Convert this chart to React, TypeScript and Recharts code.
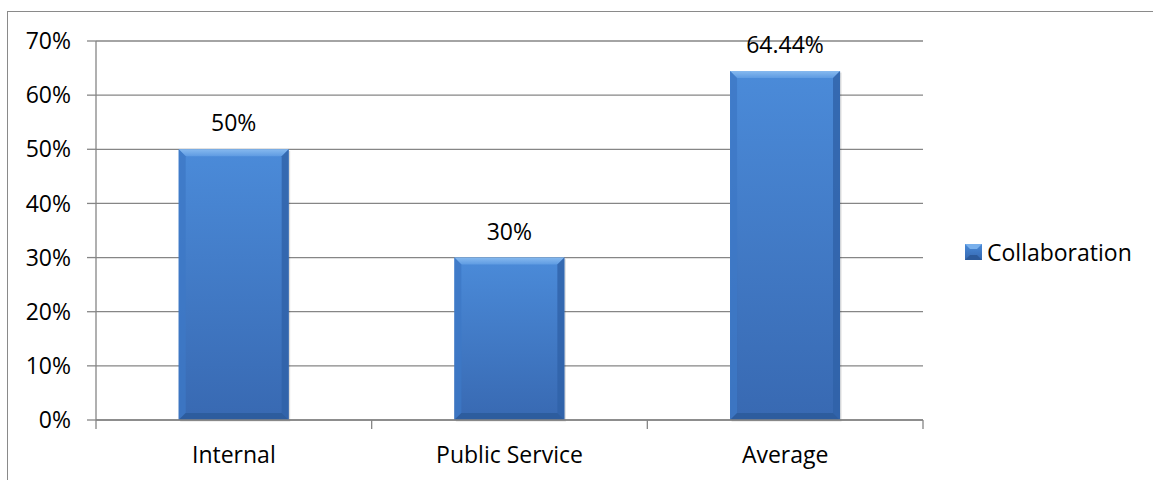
import { BarChart, Bar, XAxis, YAxis, CartesianGrid, Legend, LabelList } from 'recharts';

const categories = ['Internal', 'Public Service', 'Average'];
const collaboration = [50, 30, 64.44];
const yTicks = [0, 10, 20, 30, 40, 50, 60, 70];
const categoryEdges = [0, 1, 2, 3];

const data = categories.map((name, i) => ({
  name,
  pos: i + 0.5,
  collaboration: collaboration[i],
}));

const FONT = '"Open Sans", sans-serif';
const GRID = '#868686';

const BevelBar = (props: any) => {
  const { x, y, width, height } = props;
  if (!height || height <= 0) return null;
  const b = Math.min(7, width / 4, height / 4);
  const x2 = x + width;
  const y2 = y + height;
  return (
    <g>
      <rect x={x + 1.5} y={y + 1.5} width={width} height={height} fill="rgba(0,0,0,0.13)" />
      <rect x={x} y={y} width={width} height={height} fill="url(#barBody)" />
      <polygon points={`${x},${y} ${x2},${y} ${x2 - b},${y + b} ${x + b},${y + b}`} fill="url(#barTop)" />
      <polygon points={`${x},${y} ${x + b},${y + b} ${x + b},${y2 - b} ${x},${y2}`} fill="#3d78c6" opacity={0.8} />
      <polygon points={`${x2},${y} ${x2 - b},${y + b} ${x2 - b},${y2 - b} ${x2},${y2}`} fill="#2f62a8" opacity={0.8} />
      <polygon points={`${x},${y2} ${x + b},${y2 - b} ${x2 - b},${y2 - b} ${x2},${y2}`} fill="#2c5a9a" opacity={0.85} />
    </g>
  );
};

const renderLegend = () => (
  <div style={{ display: 'flex', alignItems: 'center', fontFamily: FONT, fontSize: 23, color: '#000' }}>
    <svg width={17} height={16} style={{ marginRight: 5 }}>
      <defs>
        <linearGradient id="legBody" x1="0" y1="0" x2="0" y2="1">
          <stop offset="0%" stopColor="#4a8ad8" />
          <stop offset="100%" stopColor="#3568b0" />
        </linearGradient>
      </defs>
      <rect x={0} y={0} width={17} height={16} fill="url(#legBody)" />
      <polygon points="0,0 17,0 12,5 5,5" fill="#79b0ec" />
      <polygon points="0,16 5,11 12,11 17,16" fill="#2c5a9a" />
    </svg>
    <span>Collaboration</span>
  </div>
);

export default function App() {
  return (
    <div style={{ position: 'absolute', left: 0, top: 0, width: 1153, height: 480, overflow: 'hidden', background: '#fff' }}>
      <div
        style={{
          position: 'absolute',
          left: 7,
          top: 11,
          width: 1300,
          height: 600,
          border: '1.5px solid #8a8a8a',
        }}
      />
      <div style={{ position: 'absolute', left: 0, top: 0 }}>
        <BarChart
          width={1153}
          height={480}
          data={data}
          margin={{ top: 41, right: 230, bottom: 0, left: 0 }}
          barCategoryGap="30%"
        >
          <defs>
            <linearGradient id="barBody" x1="0" y1="0" x2="0" y2="1">
              <stop offset="0%" stopColor="#4b8bd9" />
              <stop offset="100%" stopColor="#3869b2" />
            </linearGradient>
            <linearGradient id="barTop" x1="0" y1="0" x2="0" y2="1">
              <stop offset="0%" stopColor="#86b9ef" />
              <stop offset="100%" stopColor="#5e9be2" />
            </linearGradient>
          </defs>
          <CartesianGrid vertical={false} stroke={GRID} strokeWidth={1.3} />
          {/* edge axis: axis line plus the tick marks between categories */}
          <XAxis
            xAxisId={0}
            type="number"
            dataKey="pos"
            domain={[0, 3]}
            allowDataOverflow
            ticks={categoryEdges}
            interval={0}
            tickFormatter={() => ''}
            tickSize={9}
            height={1}
            stroke={GRID}
            axisLine={{ stroke: GRID, strokeWidth: 1.3 }}
            tickLine={{ stroke: GRID, strokeWidth: 1.3 }}
          />
          <XAxis
            xAxisId={1}
            dataKey="name"
            height={59}
            tickLine={false}
            axisLine={false}
            tickSize={9}
            tickMargin={17}
            tick={{ fill: '#000', fontSize: 23, fontFamily: FONT }}
          />
          <YAxis
            width={96}
            domain={[0, 70]}
            ticks={yTicks}
            tickFormatter={(v: number) => `${v}%`}
            tickSize={9}
            tickMargin={16}
            axisLine={{ stroke: GRID, strokeWidth: 1.3 }}
            tickLine={{ stroke: GRID, strokeWidth: 1.3 }}
            tick={{ fill: '#000', fontSize: 23, fontFamily: FONT }}
          />
          <Legend
            layout="horizontal"
            align="center"
            verticalAlign="middle"
            wrapperStyle={{ left: 965, top: 236, width: 'auto', height: 'auto' }}
            content={renderLegend}
          />
          <Bar xAxisId={1} dataKey="collaboration" name="Collaboration" shape={BevelBar} isAnimationActive={false}>
            <LabelList
              dataKey="collaboration"
              position="top"
              offset={18}
              formatter={(v: any) => `${v}%`}
              style={{ fill: '#000', fontSize: 23, fontFamily: FONT }}
            />
          </Bar>
        </BarChart>
      </div>
    </div>
  );
}
